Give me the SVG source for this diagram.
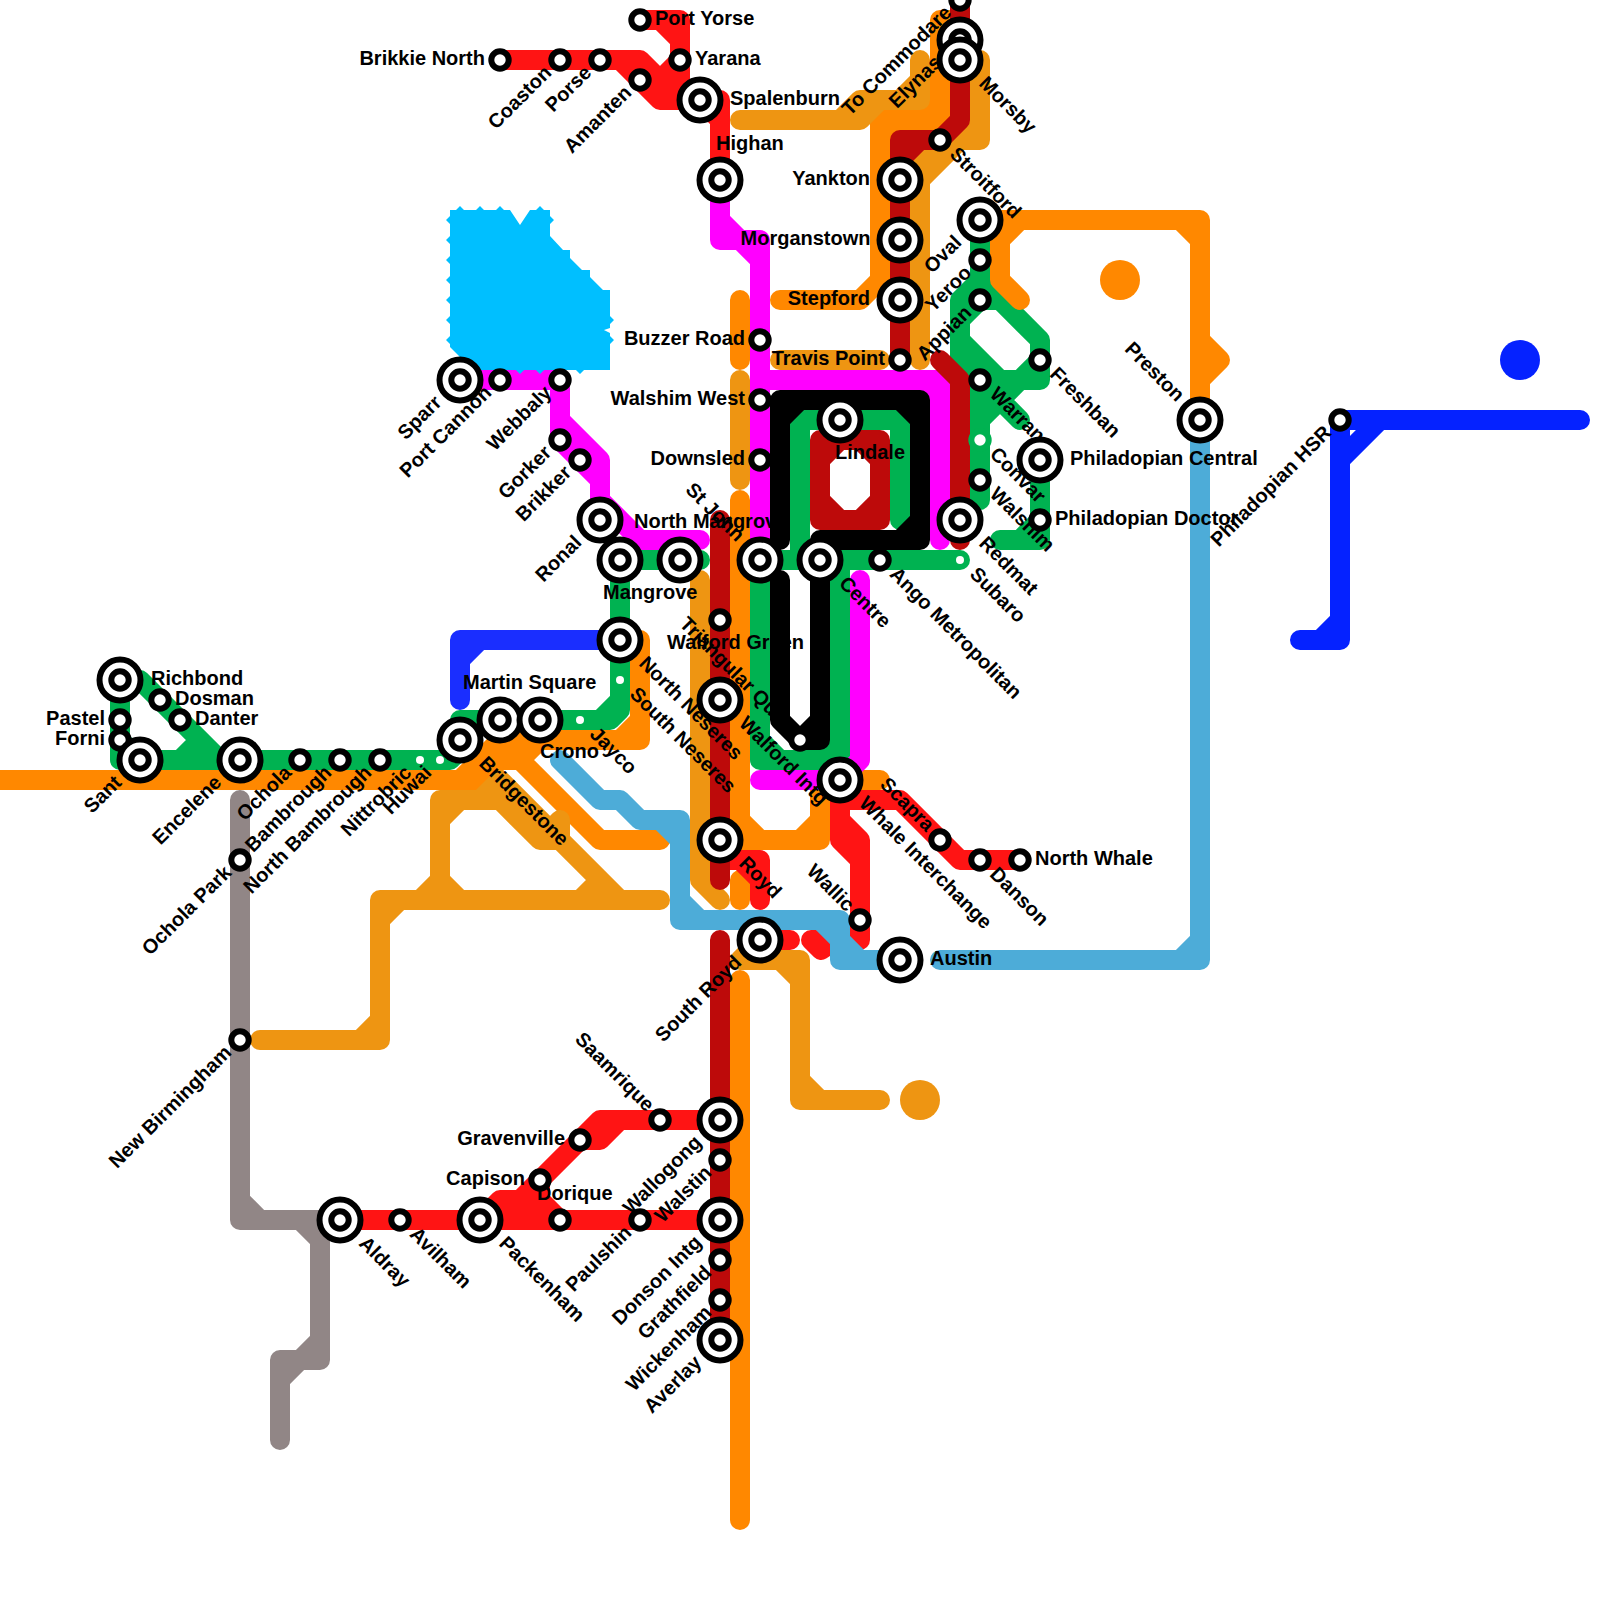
<svg xmlns="http://www.w3.org/2000/svg" width="1600" height="1600" viewBox="0 0 1600 1600">
<style>
.c path{fill:none;stroke-width:20;stroke-linecap:round;stroke-linejoin:round}
.gy{stroke:#918686}.or{stroke:#ff8800}.am{stroke:#ee9512}.dr{stroke:#bd0a0a}.rd{stroke:#ff1414}
.gn{stroke:#00b251}.bk{stroke:#000}.lb{stroke:#4dacd8}.ry{stroke:#1a2eff}.db{stroke:#0522ff}.mg{stroke:#ff00ff}
text{font-family:"Liberation Sans",Arial,sans-serif;font-weight:bold;font-size:20px;fill:#000}
.e{text-anchor:end}
.ring{fill:#fff;stroke:#000;stroke-width:6}
.wd{fill:#fff}
</style>
<defs>
<g id="big"><circle class="ring" r="20.5"/><circle class="ring" r="8.7"/></g>
<g id="sm"><circle class="ring" r="8.7"/></g>
</defs>
<rect width="1600" height="1600" fill="#fff"/>
<g id="connectors" class="c">
<path class="gy" d="M240,800V1220H320V1360H280V1440M240,1200L260,1220M300,1220L320,1240M320,1340L300,1360M300,1360L280,1380"/>
<path class="or" d="M0,780H480M460,780L480,760H520M480,780L500,760M480,760L500,740H640V640H620M640,720L620,740M620,640L640,660M540,740L520,760L600,840H660"/>
<path class="or" d="M740,500V840H820V780H880M740,820L760,840M800,840L820,820M740,880V900M740,980V1520M740,300V360"/>
<path class="or" d="M960,20H940V120H880V280L860,300H780M920,120L940,100M880,140L900,120"/>
<path class="am" d="M740,120H860L880,100M840,120L860,100H920V60M900,100L920,80M980,60V140H940L920,160V360M960,140L920,180M980,120L960,140M960,60H980M740,380V480M780,360H880M700,580V880L720,900"/>
<path class="am" d="M260,1040H380V900H660M360,1040L380,1020M380,920L400,900M420,900L440,880L460,900M440,880V800H480L500,780L620,900M440,820L460,800M480,800H500L540,840H560V820M540,840L560,820M600,880L580,900"/>
<path class="am" d="M740,960L760,940M740,960H800V1100H880M780,960L800,980M800,1080L820,1100"/>
<path class="rd" d="M500,60H640L680,100M620,60L660,100H720V180M640,20H680V100M660,20L680,40M680,60L660,80M700,100L720,120M720,860H760V900M740,860L760,880M760,940H790M811,940H816L824,948L821,950ZM840,780V840L860,860V940M840,820L860,840V860M840,800H900L960,860H1020"/>
<path class="rd" d="M340,1220H720M720,1120H600L520,1200H500L480,1220M620,1120L600,1140H580M500,1200V1220M520,1200V1220M520,1200H540L560,1220M540,1180V1200"/>
<path class="gn" d="M620,560V710L610,720H460M620,700L600,720M620,560H700M120,680V760H450L465,745M120,680H140L220,760M180,760L200,740M120,740L140,760"/>
<path class="gn" d="M760,560H960M760,560V760H840V560M760,740L780,760M820,760L840,740M800,560V420H900V520"/>
<path class="gn" d="M980,220V300M980,380V500M980,280L960,300V360L980,380M960,340L1000,380H1040V340L980,280M980,300L960,320M980,300H1000M1040,360L1020,380L980,420M980,380L1020,420M1040,460V540H1000M1040,520L1020,540"/>
<path class="or" d="M980,220H1200V420M1000,220V280L1020,300M1000,240L1020,220M1180,220L1200,240M1200,340L1220,360L1200,380"/>
<path class="mg" d="M720,180V240H760V560M720,220L740,240M740,240L760,260M760,380H940V540M920,380L940,400M860,580V760L840,780H760M460,380H560V440L600,480V520M560,420L600,460V480M600,500L640,540H700"/>
<path class="dr" d="M960,0V120L940,140H900V360M920,140L900,160M940,360L960,380V540M720,520V880M720,940V1340M820,440H880V520H820ZM840,440L820,460M860,440L880,460M880,500L860,520M820,500L840,520"/>
<path class="bk" d="M780,540V400H920V540H820M780,420L800,400M900,400L920,420M920,520L900,540M780,580V720L800,740H820V560M820,720L800,740"/>
<path class="lb" d="M560,760L600,800H620L640,820H680V920H840V960H880M660,820L680,840M680,900L700,920M820,920L840,940M840,940L860,960M940,960H1200V420M1180,960L1200,940"/>
<path class="ry" d="M620,640H460V700M480,640L460,660"/>
<path class="db" d="M1580,420H1340V640H1300M1380,420L1340,460M1340,620L1320,640"/>
<path d="M450,210H510L520,225L530,210H550V236L563,250H570V258L582,270H590V277L603,290H610V328L604,330L610,333V370H473L450,347ZM446,220l14,-14l14,14l-14,14ZM446,240l14,-14l14,14l-14,14ZM446,260l14,-14l14,14l-14,14ZM446,280l14,-14l14,14l-14,14ZM446,300l14,-14l14,14l-14,14ZM446,320l14,-14l14,14l-14,14ZM446,340l14,-14l14,14l-14,14ZM466,220l14,-14l14,14l-14,14ZM486,220l14,-14l14,14l-14,14ZM526,220l14,-14l14,14l-14,14ZM586,320l14,-14l14,14l-14,14ZM586,340l14,-14l14,14l-14,14ZM506,360l14,-14l14,14l-14,14ZM526,360l14,-14l14,14l-14,14ZM566,360l14,-14l14,14l-14,14Z" style="fill:#00bfff;stroke:none"/>
<circle cx="920" cy="1100" r="20" fill="#ee9512"/>
<circle cx="1120" cy="280" r="20" fill="#ff8800"/>
<circle cx="1520" cy="360" r="20" fill="#0522ff"/>
</g>
<g id="nodes">
<g id="n-spalenburn"><use href="#big" x="700" y="100"/><text x="730" y="105">Spalenburn</text></g>
<g id="n-highan"><use href="#big" x="720" y="180"/><text x="716" y="150">Highan</text></g>
<g id="n-yankton"><use href="#big" x="900" y="180"/><text class="e" x="870" y="185">Yankton</text></g>
<g id="n-morganstown"><use href="#big" x="900" y="240"/><text class="e" x="870.5" y="245">Morganstown</text></g>
<g id="n-stepford"><use href="#big" x="900" y="300"/><text class="e" x="870" y="305">Stepford</text></g>
<g id="n-elynas"><use href="#big" x="960" y="40"/><text class="e" transform="translate(960 40) rotate(-45)" x="-29" y="4.5">Elynas</text></g>
<g id="n-morsby"><use href="#big" x="960" y="60"/><text transform="translate(960 60) rotate(45)" x="30" y="4.5">Morsby</text></g>
<g id="n-oval"><use href="#big" x="980" y="220"/><text class="e" transform="translate(980 220) rotate(-45)" x="-29" y="4.5">Oval</text></g>
<g id="n-lindale"><use href="#big" x="840" y="420"/><text x="835" y="459">Lindale</text></g>
<g id="n-redmat"><use href="#big" x="960" y="520"/><text transform="translate(960 520) rotate(45)" x="30" y="4.5">Redmat</text></g>
<g id="n-philcentral"><use href="#big" x="1040" y="460"/><text x="1070" y="465">Philadopian Central</text></g>
<g id="n-preston"><use href="#big" x="1200" y="420"/><text class="e" transform="translate(1200 420) rotate(45)" x="-29" y="4.5">Preston</text></g>
<g id="n-stjohn"><use href="#big" x="760" y="560"/><text class="e" transform="translate(760 560) rotate(45)" x="-29" y="4.5">St John</text></g>
<g id="n-centre"><use href="#big" x="820" y="560"/><text transform="translate(820 560) rotate(45)" x="30" y="4.5">Centre</text></g>
<g id="n-northmangrove"><use href="#big" x="680" y="560"/><text x="634" y="528">North Mangrove</text></g>
<g id="n-mangrove"><use href="#big" x="620" y="560"/><text x="603" y="599">Mangrove</text></g>
<g id="n-ronal"><use href="#big" x="600" y="520"/><text class="e" transform="translate(600 520) rotate(-45)" x="-29" y="4.5">Ronal</text></g>
<g id="n-sparr"><use href="#big" x="460" y="380"/><text class="e" transform="translate(460 380) rotate(-45)" x="-29" y="4.5">Sparr</text></g>
<g id="n-richbond"><use href="#big" x="120" y="680"/><text x="151" y="685">Richbond</text></g>
<g id="n-encelene"><use href="#big" x="240" y="760"/><text class="e" transform="translate(240 760) rotate(-45)" x="-29" y="4.5">Encelene</text></g>
<g id="n-bridgestone"><use href="#big" x="460" y="740"/><text transform="translate(460 740) rotate(45)" x="30" y="4.5">Bridgestone</text></g>
<g id="n-martinsquare"><use href="#big" x="500" y="720"/><text x="463" y="689">Martin Square</text></g>
<g id="n-crono"><use href="#big" x="540" y="720"/><text x="540" y="758">Crono</text></g>
<g id="n-northneseres"><use href="#big" x="620" y="640"/><text transform="translate(620 640) rotate(45)" x="30" y="4.5">North Neseres</text></g>
<g id="n-walfordintg"><use href="#big" x="720" y="700"/><text transform="translate(720 700) rotate(45)" x="30" y="4.5">Walford Intg</text></g>
<g id="n-royd"><use href="#big" x="720" y="840"/><text transform="translate(720 840) rotate(45)" x="30" y="4.5">Royd</text></g>
<g id="n-southroyd"><use href="#big" x="760" y="940"/><text class="e" transform="translate(760 940) rotate(-45)" x="-29" y="4.5">South Royd</text></g>
<g id="n-austin"><use href="#big" x="900" y="960"/><text x="930" y="965">Austin</text></g>
<g id="n-whale"><use href="#big" x="840" y="780"/><text transform="translate(840 780) rotate(45)" x="30" y="4.5">Whale Interchange</text></g>
<g id="n-wallogong"><use href="#big" x="720" y="1120"/><text class="e" transform="translate(720 1120) rotate(-45)" x="-29" y="4.5">Wallogong</text></g>
<g id="n-donson"><use href="#big" x="720" y="1220"/><text class="e" transform="translate(720 1220) rotate(-45)" x="-29" y="4.5">Donson Intg</text></g>
<g id="n-averlay"><use href="#big" x="720" y="1340"/><text class="e" transform="translate(720 1340) rotate(-45)" x="-29" y="4.5">Averlay</text></g>
<g id="n-aldray"><use href="#big" x="340" y="1220"/><text transform="translate(340 1220) rotate(45)" x="30" y="4.5">Aldray</text></g>
<g id="n-packenham"><use href="#big" x="480" y="1220"/><text transform="translate(480 1220) rotate(45)" x="30" y="4.5">Packenham</text></g>
<g id="n-pastel"><use href="#sm" x="120" y="720"/><text class="e" x="105" y="725">Pastel</text></g>
<g id="n-forni"><use href="#sm" x="120" y="740"/><text class="e" x="105" y="745">Forni</text></g>
<g id="n-sant"><use href="#big" x="140" y="760"/><text class="e" transform="translate(140 760) rotate(-45)" x="-29" y="4.5">Sant</text></g>
<g id="n-dosman"><use href="#sm" x="160" y="700"/><text x="175" y="705">Dosman</text></g>
<g id="n-danter"><use href="#sm" x="180" y="720"/><text x="195" y="725">Danter</text></g>
<g id="n-ochola"><use href="#sm" x="300" y="760"/><text class="e" transform="translate(300 760) rotate(-45)" x="-15" y="4.5">Ochola</text></g>
<g id="n-bambrough"><use href="#sm" x="340" y="760"/><text class="e" transform="translate(340 760) rotate(-45)" x="-15" y="4.5">Bambrough</text></g>
<g id="n-northbambrough"><use href="#sm" x="380" y="760"/><text class="e" transform="translate(380 760) rotate(-45)" x="-15" y="4.5">North Bambrough</text></g>
<g id="n-nittrobric"><circle class="wd" cx="420" cy="760" r="4"/><text class="e" transform="translate(420 760) rotate(-45)" x="-15" y="4.5">Nittrobric</text></g>
<g id="n-huwai"><circle class="wd" cx="440" cy="760" r="4"/><text class="e" transform="translate(440 760) rotate(-45)" x="-15" y="4.5">Huwai</text></g>
<g id="n-ocholapark"><use href="#sm" x="240" y="860"/><text class="e" transform="translate(240 860) rotate(-45)" x="-15" y="4.5">Ochola Park</text></g>
<g id="n-newbirmingham"><use href="#sm" x="240" y="1040"/><text class="e" transform="translate(240 1040) rotate(-45)" x="-15" y="4.5">New Birmingham</text></g>
<g id="n-brikkienorth"><use href="#sm" x="500" y="60"/><text class="e" x="485" y="65">Brikkie North</text></g>
<g id="n-coaston"><use href="#sm" x="560" y="60"/><text class="e" transform="translate(560 60) rotate(-45)" x="-15" y="4.5">Coaston</text></g>
<g id="n-porse"><use href="#sm" x="600" y="60"/><text class="e" transform="translate(600 60) rotate(-45)" x="-15" y="4.5">Porse</text></g>
<g id="n-amanten"><use href="#sm" x="640" y="80"/><text class="e" transform="translate(640 80) rotate(-45)" x="-15" y="4.5">Amanten</text></g>
<g id="n-portyorse"><use href="#sm" x="640" y="20"/><text x="655" y="25">Port Yorse</text></g>
<g id="n-yarana"><use href="#sm" x="680" y="60"/><text x="695" y="65">Yarana</text></g>
<g id="n-tocommodare"><use href="#sm" x="960" y="0"/><text class="e" transform="translate(960 0) rotate(-45)" x="-15" y="4.5">To Commodare</text></g>
<g id="n-stroitford"><use href="#sm" x="940" y="140"/><text transform="translate(940 140) rotate(45)" x="17" y="4.5">Stroitford</text></g>
<g id="n-travispoint"><use href="#sm" x="900" y="360"/><text class="e" x="885" y="365">Travis Point</text></g>
<g id="n-buzzerroad"><use href="#sm" x="760" y="340"/><text class="e" x="745" y="345">Buzzer Road</text></g>
<g id="n-walshimwest"><use href="#sm" x="760" y="400"/><text class="e" x="745" y="405">Walshim West</text></g>
<g id="n-downsled"><use href="#sm" x="760" y="460"/><text class="e" x="745" y="465">Downsled</text></g>
<g id="n-yeroo"><use href="#sm" x="980" y="260"/><text class="e" transform="translate(980 260) rotate(-45)" x="-15" y="4.5">Yeroo</text></g>
<g id="n-appian"><use href="#sm" x="980" y="300"/><text class="e" transform="translate(980 300) rotate(-45)" x="-15" y="4.5">Appian</text></g>
<g id="n-warran"><use href="#sm" x="980" y="380"/><text transform="translate(980 380) rotate(45)" x="17" y="4.5">Warran</text></g>
<g id="n-freshban"><use href="#sm" x="1040" y="360"/><text transform="translate(1040 360) rotate(45)" x="17" y="4.5">Freshban</text></g>
<g id="n-convar"><circle cx="980" cy="440" r="8.7" fill="#fff" stroke="#00b251" stroke-width="6"/><text transform="translate(980 440) rotate(45)" x="17" y="4.5">Convar</text></g>
<g id="n-walshim"><use href="#sm" x="980" y="480"/><text transform="translate(980 480) rotate(45)" x="17" y="4.5">Walshim</text></g>
<g id="n-phildoctor"><use href="#sm" x="1040" y="520"/><text x="1055" y="525">Philadopian Doctor</text></g>
<g id="n-philhsr"><use href="#sm" x="1340" y="420"/><text class="e" transform="translate(1340 420) rotate(-45)" x="-15" y="4.5">Philadopian HSR</text></g>
<g id="n-subaro"><circle class="wd" cx="960" cy="560" r="4"/><text transform="translate(960 560) rotate(45)" x="17" y="4.5">Subaro</text></g>
<g id="n-ango"><use href="#sm" x="880" y="560"/><text transform="translate(880 560) rotate(45)" x="17" y="4.5">Ango Metropolitan</text></g>
<g id="n-walfordgreen"><use href="#sm" x="720" y="620"/><text x="667" y="649">Walford Green</text></g>
<g id="n-triangular"><use href="#sm" x="800" y="740"/><text class="e" transform="translate(800 740) rotate(45)" x="-15" y="4.5">Triangular Quay</text></g>
<g id="n-webbaly"><use href="#sm" x="560" y="380"/><text class="e" transform="translate(560 380) rotate(-45)" x="-15" y="4.5">Webbaly</text></g>
<g id="n-portcannon"><use href="#sm" x="500" y="380"/><text class="e" transform="translate(500 380) rotate(-45)" x="-15" y="4.5">Port Cannon</text></g>
<g id="n-gorker"><use href="#sm" x="560" y="440"/><text class="e" transform="translate(560 440) rotate(-45)" x="-15" y="4.5">Gorker</text></g>
<g id="n-brikker"><use href="#sm" x="580" y="460"/><text class="e" transform="translate(580 460) rotate(-45)" x="-15" y="4.5">Brikker</text></g>
<g id="n-southneseres"><circle class="wd" cx="620" cy="680" r="4"/><text transform="translate(620 680) rotate(45)" x="17" y="4.5">South Neseres</text></g>
<g id="n-jayco"><circle class="wd" cx="580" cy="720" r="4"/><text transform="translate(580 720) rotate(45)" x="17" y="4.5">Jayco</text></g>
<g id="n-scapra"><use href="#sm" x="940" y="840"/><text class="e" transform="translate(940 840) rotate(45)" x="-15" y="4.5">Scapra</text></g>
<g id="n-danson"><use href="#sm" x="980" y="860"/><text transform="translate(980 860) rotate(45)" x="17" y="4.5">Danson</text></g>
<g id="n-northwhale"><use href="#sm" x="1020" y="860"/><text x="1035" y="865">North Whale</text></g>
<g id="n-wallic"><use href="#sm" x="860" y="920"/><text class="e" transform="translate(860 920) rotate(45)" x="-15" y="4.5">Wallic</text></g>
<g id="n-saamrique"><use href="#sm" x="660" y="1120"/><text class="e" transform="translate(660 1120) rotate(45)" x="-15" y="4.5">Saamrique</text></g>
<g id="n-gravenville"><use href="#sm" x="580" y="1140"/><text class="e" x="565" y="1145">Gravenville</text></g>
<g id="n-capison"><use href="#sm" x="540" y="1180"/><text class="e" x="525" y="1185">Capison</text></g>
<g id="n-dorique"><use href="#sm" x="560" y="1220"/><text x="537" y="1200">Dorique</text></g>
<g id="n-avilham"><use href="#sm" x="400" y="1220"/><text transform="translate(400 1220) rotate(45)" x="17" y="4.5">Avilham</text></g>
<g id="n-paulshin"><use href="#sm" x="640" y="1220"/><text class="e" transform="translate(640 1220) rotate(-45)" x="-15" y="4.5">Paulshin</text></g>
<g id="n-walstin"><use href="#sm" x="720" y="1160"/><text class="e" transform="translate(720 1160) rotate(-45)" x="-15" y="4.5">Walstin</text></g>
<g id="n-grathfield"><use href="#sm" x="720" y="1260"/><text class="e" transform="translate(720 1260) rotate(-45)" x="-15" y="4.5">Grathfield</text></g>
<g id="n-wickenham"><use href="#sm" x="720" y="1300"/><text class="e" transform="translate(720 1300) rotate(-45)" x="-15" y="4.5">Wickenham</text></g>
</g>
</svg>
